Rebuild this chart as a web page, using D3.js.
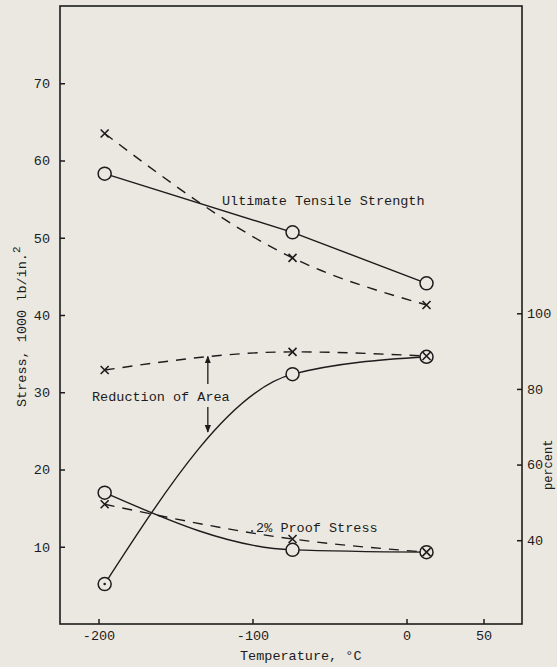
<!DOCTYPE html>
<html>
<head>
<meta charset="utf-8">
<script src="https://cdn.jsdelivr.net/npm/d3@7"></script>
<style>
  html, body { margin: 0; padding: 0; background: #ebe8e1; }
  svg { display: block; }
  text { font-family: "Liberation Mono", "DejaVu Sans Mono", monospace; fill: #1c1c1c; }
</style>
</head>
<body>
<svg id="chart" width="557" height="667"></svg>
<script>
// Test temperatures, °C
const temps = [-196, -74, 13];

// Stress, 1000 lb/in.^2
const utsSolid = [58.3, 50.7, 44.1];
const utsDashed = [63.5, 47.4, 41.3];
const proofSolid = [17.0, 9.6, 9.3];
const proofDashed = [15.5, 11.0, 9.3];

// Reduction of area, percent
const raSolid = [28.4, 83.9, 88.5];
const raDashed = [85.0, 89.8, 88.7];

// Axis ticks
const tempTicks = [-200, -100, 0, 50];
const stressTicks = [10, 20, 30, 40, 50, 60, 70];
const percentTicks = [40, 60, 80, 100];

const ink = "#1c1c1c";
const bg = "#ebe8e1";

const svg = d3.select("#chart");
const plotLeft = 60, plotRight = 522, plotTop = 6, plotBottom = 624;

const x = d3.scaleLinear().domain([-225, 75]).range([plotLeft, plotRight]);
const y = d3.scaleLinear().domain([0, 80]).range([plotBottom, plotTop]);
const yp = d3.scaleLinear().domain([40, 100]).range([540.2, 313.3]);

// frame
svg.append("rect")
  .attr("x", plotLeft).attr("y", plotTop)
  .attr("width", plotRight - plotLeft).attr("height", plotBottom - plotTop)
  .attr("fill", "none").attr("stroke", ink).attr("stroke-width", 1.6);

function styleAxis(g) {
  g.select(".domain").remove();
  g.selectAll(".tick line").attr("stroke", ink).attr("stroke-width", 1.5);
  g.selectAll(".tick text")
    .style("font-family", "'Liberation Mono', monospace")
    .style("font-size", "13.5px").attr("fill", ink);
}

const plain = d => String(d);

svg.append("g").attr("transform", `translate(${plotLeft},0)`)
  .call(d3.axisLeft(y).tickValues(stressTicks).tickSize(-5).tickPadding(10).tickFormat(plain))
  .call(styleAxis);

svg.append("g").attr("transform", `translate(0,${plotBottom})`)
  .call(d3.axisBottom(x).tickValues(tempTicks).tickSize(-5).tickPadding(6).tickFormat(plain))
  .call(styleAxis);

svg.append("g").attr("transform", `translate(${plotRight},0)`)
  .call(d3.axisRight(yp).tickValues(percentTicks).tickSize(-5).tickPadding(5).tickFormat(plain))
  .call(styleAxis);

// axis titles
const yTitle = svg.append("text")
  .attr("transform", "translate(26,407) rotate(-90)")
  .style("font-size", "13.5px");
yTitle.append("tspan").text("Stress, 1000 lb/in.");
yTitle.append("tspan").attr("dy", -6).style("font-size", "11px").text("2");

svg.append("text")
  .attr("transform", "translate(552,490) rotate(-90)")
  .style("font-size", "12px")
  .text("percent");

svg.append("text")
  .attr("x", 240).attr("y", 660)
  .style("font-size", "13.5px")
  .text("Temperature, °C");

// curves
function series(vals, scale) { return temps.map((t, i) => [x(t), scale(vals[i])]); }

function drawLine(vals, scale, dashed, curve) {
  svg.append("path")
    .datum(series(vals, scale))
    .attr("d", d3.line().curve(curve))
    .attr("fill", "none")
    .attr("stroke", ink)
    .attr("stroke-width", 1.4)
    .attr("stroke-dasharray", dashed ? "10,8" : null);
}

drawLine(utsSolid, y, false, d3.curveLinear);
drawLine(utsDashed, y, true, d3.curveMonotoneX);
drawLine(raSolid, yp, false, d3.curveMonotoneX);
drawLine(raDashed, yp, true, d3.curveMonotoneX);
drawLine(proofSolid, y, false, d3.curveMonotoneX);
drawLine(proofDashed, y, true, d3.curveMonotoneX);

// circle markers (solid-line series)
function drawCircles(vals, scale) {
  svg.append("g").selectAll("circle")
    .data(series(vals, scale))
    .join("circle")
    .attr("cx", d => d[0]).attr("cy", d => d[1]).attr("r", 6.5)
    .attr("fill", bg).attr("stroke", ink).attr("stroke-width", 1.5);
}
drawCircles(utsSolid, y);
drawCircles(raSolid, yp);
drawCircles(proofSolid, y);

// centre dot on the lowest reduction-of-area point
svg.append("circle")
  .attr("cx", x(temps[0])).attr("cy", yp(raSolid[0])).attr("r", 1.3)
  .attr("fill", ink);

// cross markers (dashed-line series)
function drawCrosses(vals, scale) {
  const s = 4;
  svg.append("g").selectAll("path")
    .data(series(vals, scale))
    .join("path")
    .attr("d", d => `M${d[0]-s},${d[1]-s}L${d[0]+s},${d[1]+s}M${d[0]+s},${d[1]-s}L${d[0]-s},${d[1]+s}`)
    .attr("fill", "none").attr("stroke", ink).attr("stroke-width", 1.6);
}
drawCrosses(utsDashed, y);
drawCrosses(raDashed, yp);
drawCrosses(proofDashed, y);

// curve labels
svg.append("text").attr("x", 222).attr("y", 205).style("font-size", "13.5px")
  .text("Ultimate Tensile Strength");
svg.append("text").attr("x", 92).attr("y", 401).style("font-size", "13.5px")
  .text("Reduction of Area");
svg.append("text").attr("x", 248).attr("y", 532).style("font-size", "13.5px")
  .text(".2% Proof Stress");

// double arrow from the reduction-of-area label to its two curves
const defs = svg.append("defs");
defs.append("marker")
  .attr("id", "head").attr("viewBox", "0 0 10 10")
  .attr("refX", 9).attr("refY", 5)
  .attr("markerWidth", 6).attr("markerHeight", 6)
  .attr("orient", "auto")
  .append("path").attr("d", "M0,1L10,5L0,9Z").attr("fill", ink);

const arrowX = x(-129);
svg.append("line")
  .attr("x1", arrowX).attr("x2", arrowX)
  .attr("y1", 384).attr("y2", yp(88.6))
  .attr("stroke", ink).attr("stroke-width", 1.3).attr("marker-end", "url(#head)");
svg.append("line")
  .attr("x1", arrowX).attr("x2", arrowX)
  .attr("y1", 407).attr("y2", yp(68.6))
  .attr("stroke", ink).attr("stroke-width", 1.3).attr("marker-end", "url(#head)");
</script>
</body>
</html>
